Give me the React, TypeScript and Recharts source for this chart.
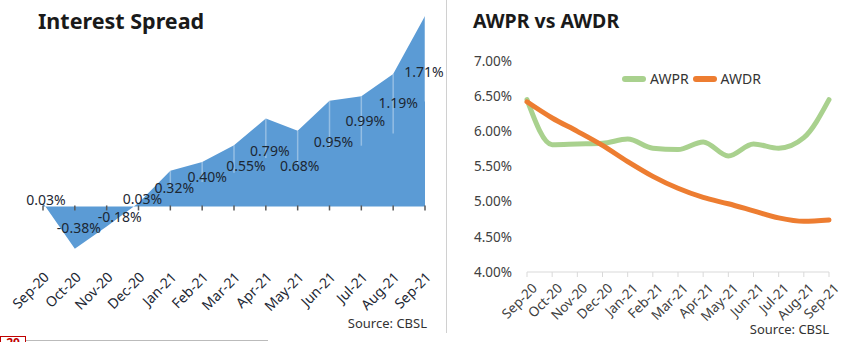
import React from 'react';
import {
  Area,
  ComposedChart,
  LabelList,
  Legend,
  Line,
  LineChart,
  XAxis,
  YAxis,
} from 'recharts';

const months = [
  'Sep-20', 'Oct-20', 'Nov-20', 'Dec-20', 'Jan-21', 'Feb-21', 'Mar-21',
  'Apr-21', 'May-21', 'Jun-21', 'Jul-21', 'Aug-21', 'Sep-21',
];
const spread = [0.03, -0.38, -0.18, 0.03, 0.32, 0.4, 0.55, 0.79, 0.68, 0.95, 0.99, 1.19, 1.71];
const awpr = [6.45, 5.81, 5.82, 5.83, 5.89, 5.76, 5.74, 5.85, 5.65, 5.82, 5.76, 5.91, 6.45];
const awdr = [6.42, 6.19, 6.0, 5.8, 5.57, 5.36, 5.19, 5.06, 4.97, 4.87, 4.77, 4.72, 4.74];
const rateTicks = [4, 4.5, 5, 5.5, 6, 6.5, 7];
const seriesOrder = ['AWPR', 'AWDR'];

const FONT = '"Noto Sans", sans-serif';

const data = months.map((month, i) => ({
  month,
  spread: spread[i],
  awpr: awpr[i],
  awdr: awdr[i],
}));

// hand placed excel data labels: nudge from the point, in px
const labelDx = [3, 4, 13, 4, 4, 5, 12, 4, 2, 4, 4, 5, -1];
const labelDy = [-3, -21, -10, -4, 17, 15, 21, 33, 35, 41, 25, 29, 56];

const SpreadLabel = (props: any) => {
  const { x, y, value, index } = props;
  const cy = y + labelDy[index];
  return (
    <g>
      {value > 0.1 && (
        <line
          x1={x}
          y1={y}
          x2={x}
          y2={y + 50 * value}
          stroke='#ffffff'
          strokeOpacity={0.35}
          strokeWidth={1.5}
        />
      )}
      <text
        x={x + labelDx[index]}
        y={cy + 5}
        textAnchor='middle'
        fontSize={14}
        fontFamily={FONT}
        fill='#1c2733'
      >
        {value.toFixed(2)}%
      </text>
    </g>
  );
};

const ZeroTick = (props: any) => {
  const { cx, cy, index } = props;
  return <line key={index} x1={cx} y1={cy - 1} x2={cx} y2={cy + 4} stroke='#595959' strokeWidth={1.5} />;
};

const LeftTick = (props: any) => {
  const { x, y, payload } = props;
  const px = x + 7;
  const py = y + 27;
  return (
    <text
      x={px}
      y={py}
      transform={`rotate(-45, ${px}, ${py})`}
      textAnchor='end'
      fontSize={14}
      fontFamily={FONT}
      fill='#1c2733'
    >
      {payload.value}
    </text>
  );
};

const RightTick = (props: any) => {
  const { x, y, payload } = props;
  const px = x + 11;
  const py = y + 12;
  return (
    <text
      x={px}
      y={py}
      transform={`rotate(-45, ${px}, ${py})`}
      textAnchor='end'
      fontSize={13.5}
      fontFamily={FONT}
      fill='#404040'
    >
      {payload.value}
    </text>
  );
};

const RateLegend = (props: any) => {
  const items = [...(props.payload || [])].sort(
    (a: any, b: any) => seriesOrder.indexOf(a.value) - seriesOrder.indexOf(b.value),
  );
  return (
    <div style={{ display: 'flex', alignItems: 'center', fontFamily: FONT, fontSize: 14, color: '#333' }}>
      {items.map((entry: any) => (
        <div key={entry.value} style={{ display: 'flex', alignItems: 'center', marginRight: 4 }}>
          <svg width={24} height={10}>
            <line x1={3} y1={5} x2={21} y2={5} stroke={entry.color} strokeWidth={6} strokeLinecap='round' />
          </svg>
          <span style={{ marginLeft: 4 }}>{entry.value}</span>
        </div>
      ))}
    </div>
  );
};

function App() {
  return (
    <div
      style={{
        position: 'absolute',
        left: 0,
        top: 0,
        width: 850,
        height: 342,
        background: '#ffffff',
        overflow: 'hidden',
        fontFamily: FONT,
      }}
    >
      <div style={{ position: 'absolute', left: 38, top: 6, fontSize: 21.5, fontWeight: 700, color: '#1a1a1a' }}>
        Interest Spread
      </div>
      <div style={{ position: 'absolute', left: 473, top: 7, fontSize: 19.5, fontWeight: 700, color: '#1a1a1a' }}>
        AWPR vs AWDR
      </div>

      <div style={{ position: 'absolute', left: 0, top: 0 }}>
        <ComposedChart width={446} height={342} data={data} margin={{ top: 6, right: 21, bottom: 0, left: 43 }}>
          <XAxis
            dataKey='month'
            scale='point'
            interval={0}
            axisLine={false}
            tickLine={false}
            tickSize={0}
            tickMargin={0}
            height={91}
            tick={<LeftTick />}
          />
          <YAxis hide type='number' domain={[-0.4, 1.8]} allowDataOverflow />
          <Area
            type='linear'
            dataKey='spread'
            baseValue={0}
            stroke='none'
            fill='#5b9bd5'
            fillOpacity={1}
            isAnimationActive={false}
          >
            <LabelList dataKey='spread' content={<SpreadLabel />} />
          </Area>
          <Line
            dataKey={() => 0}
            stroke='none'
            dot={ZeroTick}
            activeDot={false}
            legendType='none'
            isAnimationActive={false}
          />
        </ComposedChart>
      </div>

      <div style={{ position: 'absolute', left: 446, top: 0 }}>
        <LineChart width={404} height={342} data={data} margin={{ top: 61, right: 21, bottom: 0, left: 0 }}>
          <XAxis
            dataKey='month'
            interval={0}
            axisLine={{ stroke: '#d9d9d9' }}
            tickLine={{ stroke: '#d9d9d9' }}
            tickSize={5}
            tickMargin={0}
            height={70}
            tick={<RightTick />}
          />
          <YAxis
            type='number'
            domain={[4, 7]}
            ticks={rateTicks}
            tickFormatter={(v: number) => `${v.toFixed(2)}%`}
            axisLine={false}
            tickLine={false}
            tickSize={0}
            tickMargin={15}
            width={81}
            tick={{ fontSize: 13.5, fontFamily: FONT, fill: '#404040' }}
          />
          <Legend
            layout='horizontal'
            verticalAlign='middle'
            align='center'
            content={<RateLegend />}
            wrapperStyle={{ left: 176, top: 69, width: 'auto' }}
          />
          <Line
            type='monotone'
            dataKey='awpr'
            name='AWPR'
            stroke='#a9d18e'
            strokeWidth={5}
            strokeLinecap='round'
            dot={false}
            isAnimationActive={false}
          />
          <Line
            type='monotone'
            dataKey='awdr'
            name='AWDR'
            stroke='#ed7d31'
            strokeWidth={5}
            strokeLinecap='round'
            dot={false}
            isAnimationActive={false}
          />
        </LineChart>
      </div>

      <div style={{ position: 'absolute', left: 340, top: 314, fontSize: 13, color: '#333', width: 87, textAlign: 'right' }}>
        Source:&nbsp;CBSL
      </div>
      <div style={{ position: 'absolute', left: 740, top: 320, fontSize: 13, color: '#333', width: 89, textAlign: 'right' }}>
        Source:&nbsp;CBSL
      </div>

      <div style={{ position: 'absolute', left: 446, top: 0, width: 1, height: 333, background: '#d0d0d0' }} />
      <div style={{ position: 'absolute', left: 26, top: 340, width: 242, height: 1, background: '#bbbbbb' }} />
      <div
        style={{
          position: 'absolute',
          left: 0,
          top: 336,
          width: 24,
          height: 12,
          border: '1px solid #c00000',
          color: '#c00000',
          fontSize: 12,
          fontWeight: 700,
          lineHeight: '12px',
          textAlign: 'center',
        }}
      >
        20
      </div>
    </div>
  );
}

export default App;
